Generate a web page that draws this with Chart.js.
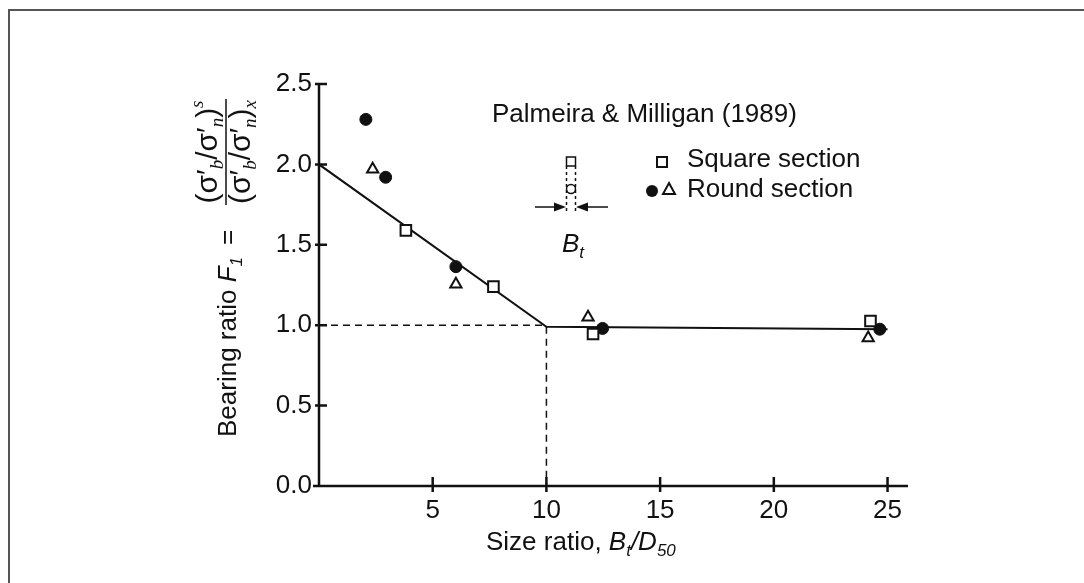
<!DOCTYPE html>
<html>
<head>
<meta charset="utf-8">
<title>Bearing ratio vs size ratio</title>
<script src="https://cdn.jsdelivr.net/npm/chart.js@4/dist/chart.umd.min.js"></script>
<style>
  html, body { margin: 0; padding: 0; background: #fff; }
  canvas { display: block; }
</style>
</head>
<body>
<canvas id="grafico" width="1084" height="583"></canvas>
<script>
// measured values (size ratio Bt/D50, bearing ratio F1)
const squareX = [3.82, 7.67, 12.05, 24.25];
const squareY = [1.59, 1.24, 0.945, 1.026];
const circleX = [2.06, 2.93, 6.02, 12.47, 24.66];
const circleY = [2.28, 1.92, 1.364, 0.98, 0.975];
const triangleX = [2.36, 6.02, 11.83, 24.15];
const triangleY = [1.97, 1.254, 1.05, 0.92];

// fitted bilinear relation
const fitX = [0, 10, 25];
const fitY = [2.0, 0.99, 0.975];

// dashed guides at F1 = 1 and Bt/D50 = 10
const guideHX = [0, 10];
const guideHY = [1.0, 1.0];
const guideVX = [10, 10];
const guideVY = [0.99, 0];

const xTicks = [5, 10, 15, 20, 25];
const yTicks = [0, 0.5, 1.0, 1.5, 2.0, 2.5];

const sourceLabel = "Palmeira & Milligan (1989)";
const squareLabel = "Square section";
const roundLabel = "Round section";

const FONT = "'Liberation Sans', Arial, sans-serif";
const SERIF = "'Liberation Serif', 'Times New Roman', serif";
const INK = "#111";

function pts(xs, ys) {
  return xs.map((x, i) => ({ x: x, y: ys[i] }));
}

// draws a run of text pieces one after another, returns the end position
function drawRun(ctx, parts, x, y) {
  parts.forEach(p => {
    ctx.font = p.font;
    ctx.fillText(p.t, x, y + (p.dy || 0));
    x += ctx.measureText(p.t).width + (p.gap || 0);
  });
  return x;
}

function runWidth(ctx, parts) {
  let w = 0;
  parts.forEach(p => {
    ctx.font = p.font;
    w += ctx.measureText(p.t).width + (p.gap || 0);
  });
  return w;
}

function fractionPart(sub) {
  const big = "30px " + FONT;
  const small = "italic 19px " + SERIF;
  return [
    { t: "(σ′", font: big },
    { t: "b", font: small, dy: 6 },
    { t: "/σ′", font: big },
    { t: "n", font: small, dy: 6 },
    { t: ")", font: big },
    sub
  ];
}

const extras = {
  id: "extras",
  beforeDraw(chart) {
    const ctx = chart.ctx;
    ctx.save();
    ctx.fillStyle = "#fff";
    ctx.fillRect(0, 0, chart.width, chart.height);
    // frame (top and left edges)
    ctx.strokeStyle = "#555";
    ctx.lineWidth = 2;
    ctx.beginPath();
    ctx.moveTo(9, chart.height);
    ctx.lineTo(9, 10);
    ctx.lineTo(chart.width, 10);
    ctx.stroke();
    ctx.restore();
  },
  afterDraw(chart) {
    const ctx = chart.ctx;
    const xs = chart.scales.x;
    const ys = chart.scales.y;
    const x0 = xs.getPixelForValue(0);
    const y0 = ys.getPixelForValue(0);

    ctx.save();
    ctx.strokeStyle = INK;
    ctx.fillStyle = INK;

    // axes with crossing ticks
    ctx.lineWidth = 2.5;
    ctx.beginPath();
    ctx.moveTo(x0, ys.getPixelForValue(2.5));
    ctx.lineTo(x0, y0);
    ctx.moveTo(x0 - 6, y0);
    ctx.lineTo(xs.right, y0);
    yTicks.forEach(v => {
      const p = ys.getPixelForValue(v);
      ctx.moveTo(x0 - 4, p);
      ctx.lineTo(x0 + 8, p);
    });
    xTicks.forEach(v => {
      const p = xs.getPixelForValue(v);
      ctx.moveTo(p, y0 - 9);
      ctx.lineTo(p, y0 + 6);
    });
    ctx.stroke();

    ctx.textBaseline = "alphabetic";
    ctx.textAlign = "left";

    // x axis title
    drawRun(ctx, [
      { t: "Size ratio, ", font: "26px " + FONT },
      { t: "B", font: "italic 26px " + FONT },
      { t: "t", font: "italic 17px " + FONT, dy: 6 },
      { t: "/D", font: "italic 26px " + FONT },
      { t: "50", font: "italic 17px " + FONT, dy: 6 }
    ], 486, 550);

    // y axis title, rotated
    ctx.save();
    ctx.rotate(-Math.PI / 2);
    const base = 236;
    drawRun(ctx, [
      { t: "Bearing ratio ", font: "26px " + FONT },
      { t: "F", font: "italic 26px " + FONT },
      { t: "1", font: "italic 17px " + FONT, dy: 6 }
    ], -437, base);
    drawRun(ctx, [{ t: "=", font: "26px " + FONT }], -245, base);
    const num = fractionPart({ t: "s", font: "italic 19px " + SERIF, dy: -14 });
    const den = fractionPart({ t: "x", font: "italic 19px " + SERIF, dy: 6 });
    const wn = runWidth(ctx, num);
    const wd = runWidth(ctx, den);
    const u = -205;
    const w = Math.max(wn, wd) + 2;
    drawRun(ctx, num, u + (w - wn) / 2, 217);
    drawRun(ctx, den, u + (w - wd) / 2, 250);
    ctx.lineWidth = 1.5;
    ctx.beginPath();
    ctx.moveTo(u, 226);
    ctx.lineTo(u + w, 226);
    ctx.stroke();
    ctx.restore();

    // source and legend
    ctx.font = "26px " + FONT;
    ctx.textBaseline = "middle";
    ctx.fillText(sourceLabel, 492, 115);
    ctx.fillText(squareLabel, 687, 160);
    ctx.fillText(roundLabel, 687, 190);

    ctx.lineWidth = 2;
    ctx.strokeRect(657, 157, 10, 10);
    ctx.beginPath();
    ctx.arc(652, 191, 6, 0, Math.PI * 2);
    ctx.fill();
    ctx.beginPath();
    ctx.moveTo(669, 183);
    ctx.lineTo(675, 194);
    ctx.lineTo(663, 194);
    ctx.closePath();
    ctx.stroke();

    // reinforcement cross-section sketch
    ctx.lineWidth = 1.5;
    ctx.strokeRect(566.5, 157, 9, 9);
    ctx.beginPath();
    ctx.arc(571, 189, 4.5, 0, Math.PI * 2);
    ctx.stroke();
    ctx.setLineDash([3, 3]);
    ctx.beginPath();
    ctx.moveTo(566.5, 166); ctx.lineTo(566.5, 214);
    ctx.moveTo(575.5, 166); ctx.lineTo(575.5, 214);
    ctx.stroke();
    ctx.setLineDash([]);
    ctx.beginPath();
    ctx.moveTo(535, 207); ctx.lineTo(557, 207);
    ctx.moveTo(585, 207); ctx.lineTo(608, 207);
    ctx.stroke();
    ctx.beginPath();
    ctx.moveTo(566, 207); ctx.lineTo(554, 202.5); ctx.lineTo(554, 211.5); ctx.closePath();
    ctx.moveTo(576, 207); ctx.lineTo(588, 202.5); ctx.lineTo(588, 211.5); ctx.closePath();
    ctx.fill();

    ctx.textBaseline = "alphabetic";
    drawRun(ctx, [
      { t: "B", font: "italic 26px " + FONT },
      { t: "t", font: "italic 17px " + FONT, dy: 6 }
    ], 562, 252);

    ctx.restore();
  }
};

const ctx = document.getElementById("grafico").getContext("2d");

new Chart(ctx, {
  type: "scatter",
  data: {
    datasets: [
      {
        label: squareLabel,
        data: pts(squareX, squareY),
        pointStyle: "rect",
        pointRadius: 7.5,
        pointBorderWidth: 2,
        pointBackgroundColor: "#fff",
        pointBorderColor: INK,
        order: 0
      },
      {
        label: roundLabel,
        data: pts(circleX, circleY),
        pointStyle: "circle",
        pointRadius: 6,
        pointBorderWidth: 1,
        pointBackgroundColor: INK,
        pointBorderColor: INK,
        order: 0
      },
      {
        label: roundLabel,
        data: pts(triangleX, triangleY),
        pointStyle: "triangle",
        pointRadius: 6.5,
        pointBorderWidth: 2,
        pointBackgroundColor: "#fff",
        pointBorderColor: INK,
        order: 0
      },
      {
        label: "fit",
        data: pts(fitX, fitY),
        showLine: true,
        borderColor: INK,
        borderWidth: 2,
        pointRadius: 0,
        order: 5
      },
      {
        label: "guide h",
        data: pts(guideHX, guideHY),
        showLine: true,
        borderColor: INK,
        borderWidth: 1.5,
        borderDash: [7, 5],
        pointRadius: 0,
        order: 6
      },
      {
        label: "guide v",
        data: pts(guideVX, guideVY),
        showLine: true,
        borderColor: INK,
        borderWidth: 1.5,
        borderDash: [7, 5],
        pointRadius: 0,
        order: 6
      }
    ]
  },
  options: {
    responsive: false,
    animation: false,
    devicePixelRatio: 1,
    layout: { padding: { left: 0, top: 84, right: 176, bottom: 0 } },
    plugins: {
      legend: { display: false },
      tooltip: { enabled: false }
    },
    scales: {
      x: {
        type: "linear",
        min: 0,
        max: 25.9,
        afterBuildTicks: s => { s.ticks = xTicks.map(v => ({ value: v })); },
        afterFit: s => { s.height = 97; },
        grid: { display: false, drawTicks: false },
        border: { display: false },
        ticks: {
          color: INK,
          padding: 9,
          maxRotation: 0,
          autoSkip: false,
          font: { family: FONT, size: 26 },
          callback: v => String(v)
        }
      },
      y: {
        min: 0,
        max: 2.5,
        afterBuildTicks: s => { s.ticks = yTicks.map(v => ({ value: v })); },
        afterFit: s => { s.width = 319; },
        grid: { display: false, drawTicks: false },
        border: { display: false },
        ticks: {
          color: INK,
          padding: 7,
          autoSkip: false,
          font: { family: FONT, size: 26 },
          callback: v => Number(v).toFixed(1)
        }
      }
    }
  },
  plugins: [extras]
});
</script>
</body>
</html>
